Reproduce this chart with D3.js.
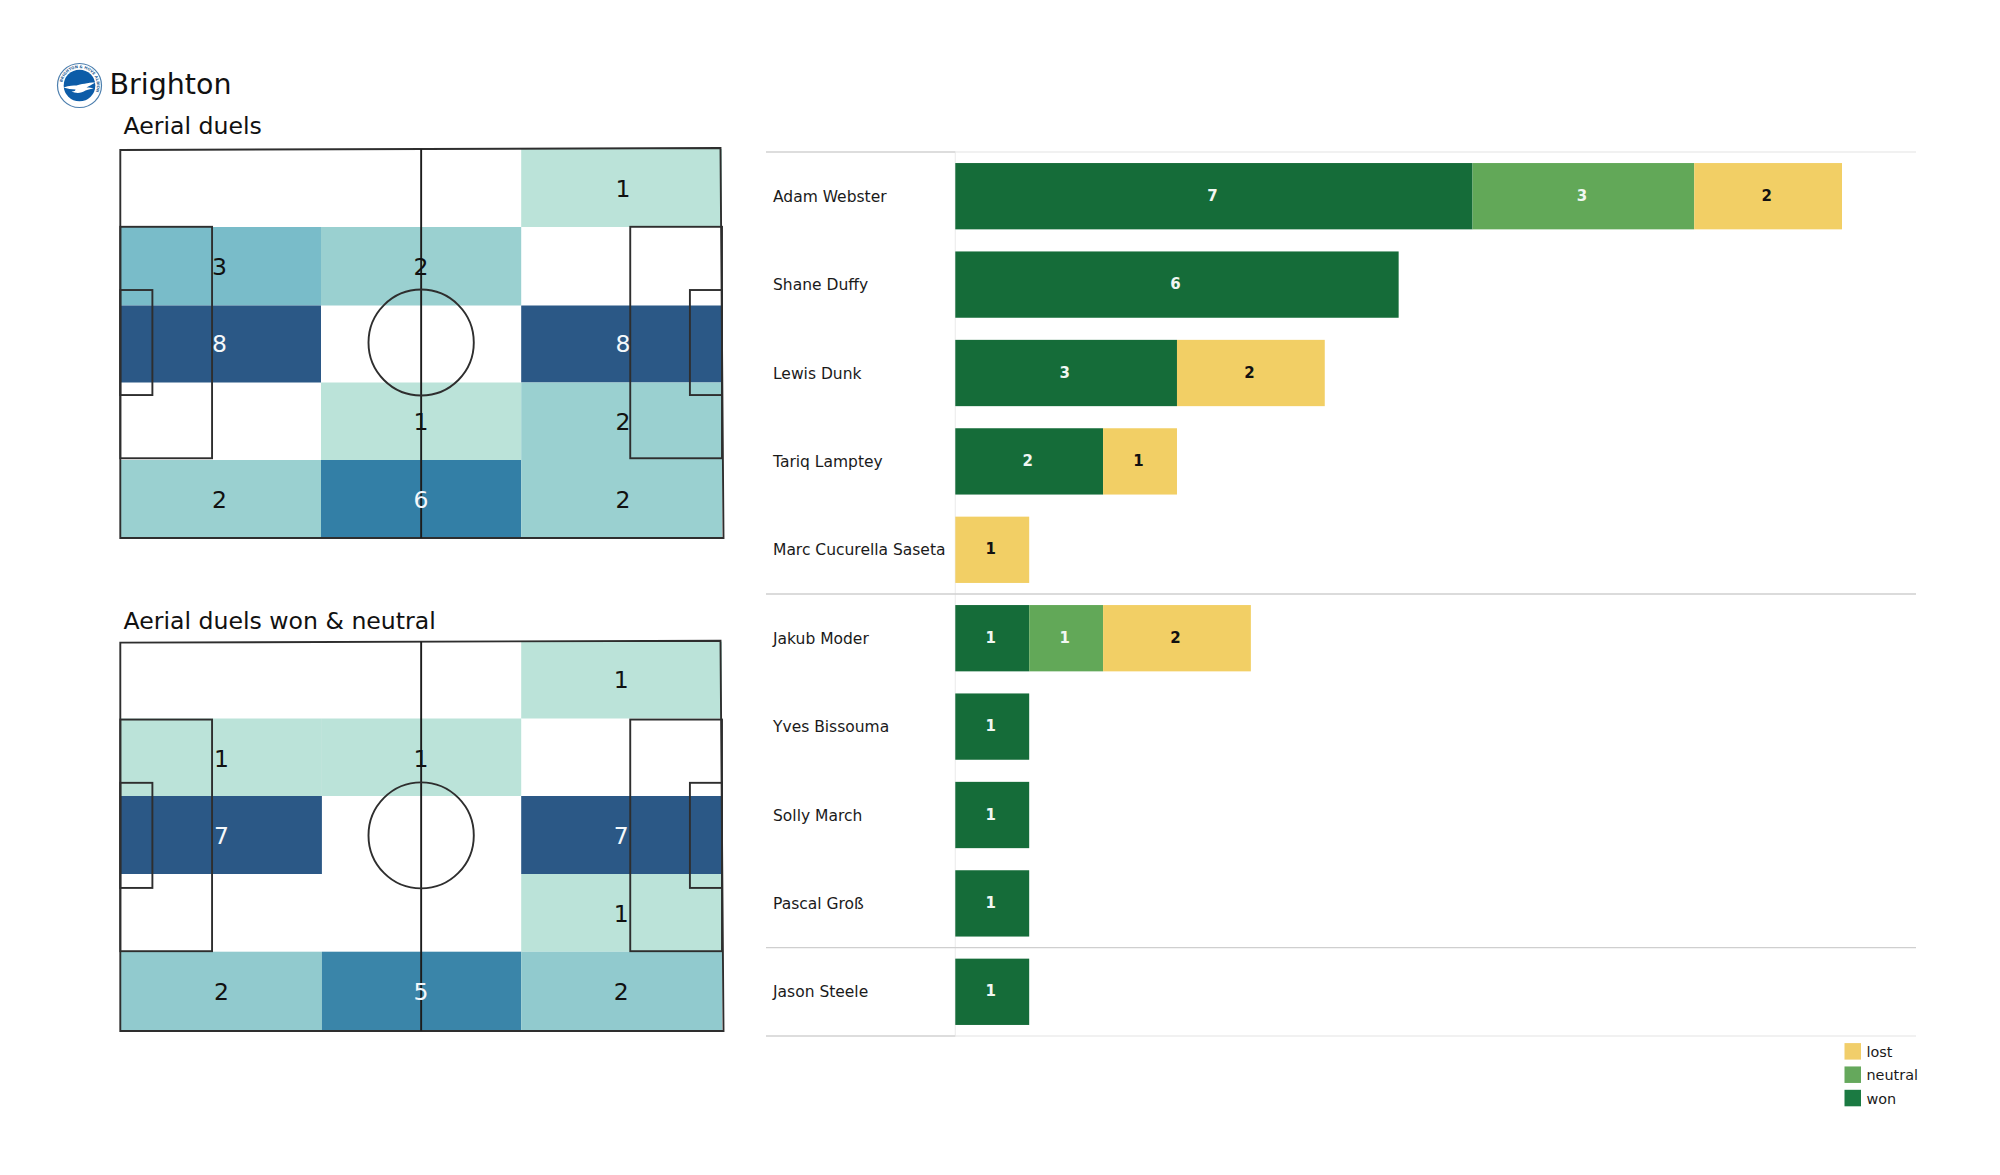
<!DOCTYPE html>
<html>
<head>
<meta charset="utf-8">
<style>
html,body{margin:0;padding:0;background:#fff}
svg{display:block}
text{font-family:"DejaVu Sans",sans-serif}
</style>
<script src="https://cdn.jsdelivr.net/npm/d3@7/dist/d3.min.js"></script>
</head>
<body>
<svg id="c" width="2000" height="1175"></svg>
<script>
const teamName = "Brighton";
const crestText = "BRIGHTON & HOVE ALBION";
const pitchTitles = ["Aerial duels", "Aerial duels won & neutral"];
const aerialDuels = [
  [0,0,1],
  [3,2,0],
  [8,0,8],
  [0,1,2],
  [2,6,2]
];
const aerialWonNeutral = [
  [0,0,1],
  [1,1,0],
  [7,0,7],
  [0,0,1],
  [2,5,2]
];
const players = ["Adam Webster","Shane Duffy","Lewis Dunk","Tariq Lamptey","Marc Cucurella Saseta","Jakub Moder","Yves Bissouma","Solly March","Pascal Groß","Jason Steele"];
const won     = [7,6,3,2,0,1,1,1,1,1];
const neutral = [3,0,0,0,0,1,0,0,0,0];
const lost    = [2,0,2,1,1,2,0,0,0,0];
const outcomeKeys = ["won","neutral","lost"];
const legendKeys = ["lost","neutral","won"];
const separatorsAfter = ["Marc Cucurella Saseta","Pascal Groß","Jason Steele"];

const outcomeColor = {won:"#156c39",neutral:"#62a858",lost:"#f2cf65"};
const legendColor = {won:"#1b7a42",neutral:"#65a85c",lost:"#f1ce6a"};
const heat = d3.scaleLinear()
  .domain([0.125,0.145,0.25,0.375,0.75,1])
  .range(["#bbe3d9","#bbe3d9","#9ad0d0","#79bcc9","#337fa6","#2b5886"])
  .clamp(true);

const svg = d3.select("#c");
svg.append("rect").attr("width",2000).attr("height",1175).attr("fill","#fff");

/* crest */
const crest = svg.append("g").attr("transform","translate(79.5,85.5)");
crest.append("circle").attr("r",22).attr("fill","#fff").attr("stroke","#4d7fae").attr("stroke-width",1.2);
crest.append("path").attr("id","crestArc").attr("d","M-17.5,0A17.5,17.5 0 1 1 17.5,0A17.5,17.5 0 1 1 -17.5,0").attr("fill","none");
crest.append("text").attr("font-size",3.8).attr("font-weight","bold").attr("fill","#2a5f96")
  .append("textPath").attr("href","#crestArc").attr("startOffset","3%").text(crestText);
crest.append("circle").attr("r",15.8).attr("fill","#0c5ca8");
crest.append("path").attr("fill","#fff")
  .attr("d","M-16,2C-10,0 -6,0 -3,0C1,-1 8,-3 16,-3C12,-1 9,1 7,2C10,2 12,2 14,3C10,4 8,4 6,5C2,8 -4,8 -8,6C-5,6 -4,5 -4,4C-8,4 -12,3 -16,2Z");
svg.append("text").attr("x",109.5).attr("y",94).attr("font-size",28.5).attr("fill","#111").text(teamName);

/* pitches */
const outerCorners = [[0,0.2],[119.7,-0.2],[120.3,80],[0,80]];
const pitchBoxes = [
  {titleY:133.5,rows:[149,227,305.5,382.5,460,538],cols:[120.3,321,521.2,722],labelX:[219.4,421,623],labelY:[188,266,343,421.7,499],data:aerialDuels},
  {titleY:628.5,rows:[641.7,718.5,796,874,951.7,1031],cols:[120.3,321.9,521.2,722],labelX:[221.4,421,621.3],labelY:[679,758,835,913,991],data:aerialWonNeutral}
];
pitchBoxes.forEach((p,pi)=>{
  const g = svg.append("g");
  const maxV = d3.max(p.data.flat());
  const sx = d3.scaleLinear().domain([0,120]).range([p.cols[0],p.cols[3]]);
  const sy = d3.scaleLinear().domain([0,80]).range([p.rows[0],p.rows[5]]);
  const cells = p.data.flatMap((r,ri)=>r.map((v,ci)=>({v,ri,ci}))).filter(d=>d.v>0);
  g.selectAll("rect.cell").data(cells).join("rect").attr("class","cell")
    .attr("x",d=>p.cols[d.ci]).attr("y",d=>p.rows[d.ri])
    .attr("width",d=>p.cols[d.ci+1]-p.cols[d.ci]).attr("height",d=>p.rows[d.ri+1]-p.rows[d.ri])
    .attr("fill",d=>heat(d.v/maxV));
  const line = g.append("g").attr("fill","none").attr("stroke","#2e2e2e").attr("stroke-width",1.9);
  const box=(x0,y0,x1,y1)=>line.append("rect").attr("x",sx(x0)).attr("y",sy(y0)).attr("width",sx(x1)-sx(x0)).attr("height",sy(y1)-sy(y0));
  line.append("path").attr("d",d3.line().x(d=>sx(d[0])).y(d=>sy(d[1])).curve(d3.curveLinearClosed)(outerCorners));
  box(0,16,18.3,63.6);
  box(101.7,16,120,63.6);
  box(0,29,6.4,50.6);
  box(113.6,29,120,50.6);
  line.append("line").attr("x1",sx(60)).attr("x2",sx(60)).attr("y1",sy(0)).attr("y2",sy(80)).attr("stroke","#1c1c1c");
  line.append("ellipse").attr("cx",sx(60)).attr("cy",sy(39.8)).attr("rx",sx(10.5)-sx(0)).attr("ry",sy(10.9)-sy(0));
  g.selectAll("text.val").data(cells).join("text").attr("class","val")
    .attr("x",d=>p.labelX[d.ci]).attr("y",d=>p.labelY[d.ri]+8.5)
    .attr("text-anchor","middle").attr("font-size",23.5)
    .attr("fill",d=>d.v>=5?"#f4f8fb":"#111").text(d=>d.v);
  svg.append("text").attr("x",123.5).attr("y",p.titleY).attr("font-size",23.6).attr("fill","#111").text(pitchTitles[pi]);
});

/* stacked bars */
const rows = players.map((name,i)=>({name,won:won[i],neutral:neutral[i],lost:lost[i]}));
const x = d3.scaleLinear().domain([0,12]).range([955.3,1842]);
const y = d3.scaleBand().domain(players).range([152,1036]).paddingInner(0.25).paddingOuter(0.125);
const stepHalf = y.step()/2;

const grid = svg.append("g");
grid.append("line").attr("x1",x(0)).attr("x2",x(0)).attr("y1",152).attr("y2",1036).attr("stroke","#eeeeee").attr("stroke-width",1.2);
const sepY = [152].concat(separatorsAfter.map(n=>y(n)+y.bandwidth()/2+stepHalf));
sepY.forEach((yy,i)=>{
  const isMid = i===1||i===2;
  grid.append("line").attr("x1",766).attr("x2",1916).attr("y1",yy).attr("y2",yy)
    .attr("stroke",isMid?"#cfcfcf":"#ececec").attr("stroke-width",1.4);
  if(!isMid) grid.append("line").attr("x1",766).attr("x2",x(0)).attr("y1",yy).attr("y2",yy)
    .attr("stroke","#d6d6d6").attr("stroke-width",1.4);
});

const series = d3.stack().keys(outcomeKeys)(rows);
const bars = svg.append("g");
series.forEach(s=>{
  const segs = s.map(d=>({k:s.key,a:d[0],b:d[1],name:d.data.name})).filter(d=>d.b>d.a);
  bars.selectAll(null).data(segs).join("rect")
    .attr("x",d=>x(d.a)).attr("y",d=>y(d.name))
    .attr("width",d=>x(d.b)-x(d.a)).attr("height",y.bandwidth())
    .attr("fill",outcomeColor[s.key]);
  bars.selectAll(null).data(segs).join("text")
    .attr("x",d=>(x(d.a)+x(d.b))/2-1.5).attr("y",d=>y(d.name)+y.bandwidth()/2+4.5)
    .attr("text-anchor","middle").attr("font-size",15).attr("font-weight","bold")
    .attr("fill",s.key==="lost"?"#111":"#f1f7f2").text(d=>d.b-d.a);
});

const axis = svg.append("g").attr("transform",`translate(${x(0)},0.6)`)
  .call(d3.axisLeft(y).tickSize(0));
axis.select(".domain").remove();
axis.selectAll("text").attr("x",773-x(0)).attr("text-anchor","start")
  .attr("font-family","'DejaVu Sans'").attr("font-size",15.5).attr("fill","#1a1a1a");

/* legend */
const legendY = d3.scalePoint().domain(legendKeys).range([1051.3,1098]);
const legend = svg.append("g");
legend.selectAll("rect").data(legendKeys).join("rect")
  .attr("x",1844.5).attr("y",d=>legendY(d)-8.2).attr("width",16.5).attr("height",16.5)
  .attr("fill",d=>legendColor[d]);
legend.selectAll("text").data(legendKeys).join("text")
  .attr("x",1866.5).attr("y",d=>legendY(d)+5.5).attr("font-size",14.4).attr("fill","#1a1a1a").text(d=>d);
</script>
</body>
</html>
